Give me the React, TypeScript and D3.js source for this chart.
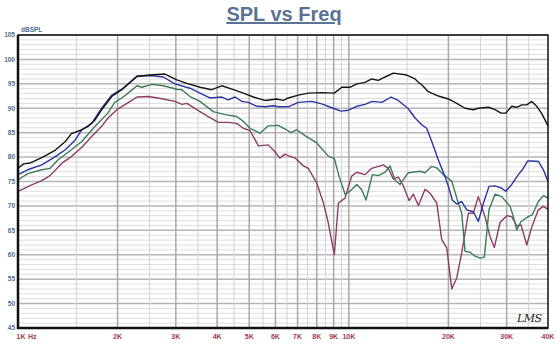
import React from 'react';
import * as d3 from 'd3';

const W = 560;
const H = 351;
const margin = { l: 18, r: 12, t: 35, b: 23 };

const yTicks = [45, 50, 55, 60, 65, 70, 75, 80, 85, 90, 95, 100, 105];
const xTicks = [1000, 2000, 3000, 4000, 5000, 6000, 7000, 8000, 9000, 10000, 20000, 30000, 40000];
const xTickLabels = ['1K', '2K', '3K', '4K', '5K', '6K', '7K', '8K', '9K', '10K', '20K', '30K', '40K'];
const xMinor = [1500, 2500, 3500, 4500, 5500, 6500, 7500, 8500, 9500, 15000, 25000, 35000];

// [Hz, dB]
const blackSeries: [number, number][] = [
  [1000, 77.7], [1040, 78.6], [1090, 78.8], [1180, 79.9], [1290, 81.3], [1390, 83.2], [1450, 84.8],
  [1560, 85.6], [1630, 86.3], [1710, 87.6], [1790, 89.7], [1920, 92.4], [2060, 93.8], [2160, 95.0],
  [2290, 96.5], [2510, 96.8], [2780, 97.0], [3020, 95.8], [3240, 95.1], [3550, 94.3], [3850, 93.8],
  [4130, 94.6], [4480, 93.8], [4800, 93.1], [5150, 92.3], [5580, 91.6], [6050, 91.9], [6340, 91.6],
  [6560, 92.1], [7040, 92.7], [7540, 93.1], [8280, 93.2], [9040, 93.1], [9520, 94.3], [10080, 94.3],
  [10570, 95.0], [11190, 95.3], [11730, 96.0], [12280, 95.7], [12870, 96.4], [13630, 97.2], [14960, 96.8],
  [15860, 96.0], [16230, 95.3], [16610, 94.8], [17390, 93.4], [18650, 92.5], [20000, 91.9], [21200, 91.0],
  [22460, 90.0], [23790, 89.7], [24630, 90.0], [26410, 90.2], [27670, 89.7], [28850, 89.0], [29810, 89.0],
  [31080, 90.4], [32180, 90.2], [33320, 90.7], [34500, 90.7], [35720, 91.4], [36980, 90.4], [38300, 88.9],
  [40000, 86.4],
];

const blueSeries: [number, number][] = [
  [1000, 76.4], [1070, 77.4], [1180, 78.4], [1290, 80.0], [1390, 81.5], [1490, 83.5], [1560, 85.6],
  [1670, 86.9], [1790, 90.0], [1920, 92.7], [2060, 93.9], [2290, 96.6], [2510, 96.7], [2750, 96.4],
  [2980, 95.0], [3310, 94.1], [3550, 93.1], [3800, 92.1], [4130, 92.3], [4320, 91.7], [4530, 92.3],
  [4750, 91.4], [4970, 91.2], [5270, 90.4], [5580, 90.3], [5910, 90.5], [6120, 90.3], [6560, 90.3],
  [7040, 91.2], [7720, 91.4], [8280, 90.9], [8880, 90.1], [9470, 89.4], [9970, 89.6], [10570, 90.4],
  [11190, 90.8], [11780, 91.4], [12580, 91.2], [13420, 92.3], [14110, 91.6], [15130, 89.9], [15860, 88.0],
  [16610, 86.6], [17200, 85.9], [17810, 83.2], [18650, 79.4], [19530, 76.0], [20000, 74.0], [20550, 71.2],
  [21200, 70.4], [21940, 70.9], [22720, 69.2], [23790, 68.8], [24630, 66.8], [25500, 70.5], [26530, 74.0],
  [27670, 74.1], [28850, 73.7], [29810, 73.0], [31080, 74.4], [32540, 76.4], [33460, 77.4], [34740, 79.2],
  [35720, 79.2], [37410, 79.1], [38730, 77.4], [40000, 75.0],
];

const greenSeries: [number, number][] = [
  [1000, 75.3], [1070, 76.6], [1180, 77.4], [1250, 77.7], [1320, 79.4], [1450, 81.5], [1560, 83.2],
  [1710, 86.3], [1870, 89.0], [1960, 91.2], [2060, 92.1], [2180, 93.4], [2290, 94.6], [2370, 94.3],
  [2540, 94.9], [2750, 94.6], [3020, 93.9], [3130, 93.8], [3310, 92.4], [3550, 91.4], [3890, 89.3],
  [4230, 88.7], [4580, 88.3], [4800, 87.3], [5030, 85.9], [5390, 84.9], [5710, 86.4], [6120, 86.5],
  [6400, 85.8], [6690, 85.0], [6960, 85.6], [7370, 84.4], [8000, 82.9], [8670, 80.2], [9040, 79.7],
  [9340, 76.1], [9740, 72.4], [10080, 73.0], [10570, 74.4], [10940, 73.3], [11270, 71.2], [11780, 76.4],
  [12280, 76.2], [12870, 76.9], [13320, 78.2], [13790, 75.3], [14280, 74.4], [15130, 76.8], [16420, 77.1],
  [17000, 76.8], [17810, 78.1], [18440, 77.8], [19310, 76.4], [20470, 75.1], [21200, 71.6], [21940, 68.5],
  [22460, 60.7], [23250, 60.5], [24070, 59.7], [24930, 59.3], [25680, 59.5], [26530, 69.2], [27670, 72.4],
  [28990, 71.9], [30720, 69.9], [31430, 67.8], [32180, 65.1], [33160, 66.8], [34880, 67.8], [35870, 68.2],
  [37410, 70.9], [38730, 72.1], [40000, 71.6],
];

const maroonSeries: [number, number][] = [
  [1000, 73.0], [1100, 74.3], [1180, 75.2], [1250, 76.2], [1360, 78.8], [1450, 80.1], [1560, 82.0],
  [1670, 84.2], [1790, 86.3], [1870, 88.0], [1990, 89.7], [2160, 91.2], [2290, 92.3], [2480, 92.4],
  [2750, 91.9], [2980, 91.4], [3130, 90.8], [3240, 91.0], [3550, 89.3], [3760, 88.3], [4030, 87.1],
  [4320, 87.1], [4580, 86.9], [4800, 85.9], [5030, 85.4], [5330, 82.3], [5710, 82.5], [5980, 81.1],
  [6190, 79.8], [6410, 80.6], [6560, 80.3], [6880, 79.8], [7290, 78.2], [7540, 77.7], [8000, 74.7],
  [8380, 70.6], [8670, 66.5], [9040, 60.0], [9300, 70.6], [9740, 71.6], [10200, 76.1], [10570, 76.9],
  [11190, 76.4], [11730, 77.7], [12280, 78.1], [12720, 78.4], [13160, 77.7], [13630, 75.5], [14110, 75.9],
  [14620, 74.1], [15210, 71.1], [15670, 72.4], [16230, 70.1], [17000, 73.4], [17600, 72.6], [18440, 70.6],
  [19090, 63.1], [19770, 61.4], [20470, 53.0], [21200, 55.3], [21940, 60.4], [22980, 68.5], [23790, 68.5],
  [24630, 71.9], [25800, 67.8], [26720, 63.7], [27540, 61.5], [28650, 66.6], [30020, 68.0], [31080, 67.8],
  [32180, 65.9], [33160, 66.1], [34500, 62.0], [35720, 65.7], [37410, 69.2], [38730, 69.9], [40000, 69.3],
];

const series = [
  { name: 'black', color: '#151515', data: blackSeries },
  { name: 'blue', color: '#2b34a3', data: blueSeries },
  { name: 'green', color: '#3c7b58', data: greenSeries },
  { name: 'maroon', color: '#8e3d63', data: maroonSeries },
];

const labelBlue = '#4f6b8d';
const labelRed = '#a03c4c';

export default function App() {
  const x = d3.scaleLog().domain([1000, 40000]).range([margin.l, W - margin.r]);
  const y = d3.scaleLinear().domain([45, 105]).range([H - margin.b, margin.t]);
  const minorDb = d3.range(46, 105).filter((v) => v % 5 !== 0);

  const line = d3
    .line<[number, number]>()
    .x((d) => x(d[0]))
    .y((d) => y(d[1]));

  const left = margin.l;
  const right = W - margin.r;
  const top = margin.t;
  const bottom = H - margin.b;

  return (
    <svg width={W} height={H} style={{ position: 'absolute', left: 0, top: 0, background: '#fff' }}>
      <text
        x={284}
        y={21}
        textAnchor="middle"
        fontFamily="Liberation Sans, Arial, sans-serif"
        fontWeight="bold"
        fontSize={20}
        fill="#5a7392"
        textDecoration="underline"
      >
        SPL vs Freq
      </text>

      {/* grid */}
      <g>
        {minorDb.map((v) => (
          <line key={'hm' + v} x1={left} x2={right} y1={y(v)} y2={y(v)} stroke="#dedede" strokeWidth={1} />
        ))}
        {yTicks.map((v) => (
          <line key={'hM' + v} x1={left} x2={right} y1={y(v)} y2={y(v)} stroke="#b4b4b4" strokeWidth={1.5} />
        ))}
        {xMinor.map((f) => (
          <line key={'vm' + f} x1={x(f)} x2={x(f)} y1={top} y2={bottom} stroke="#d2d2d2" strokeWidth={1} />
        ))}
        {xTicks.slice(1, -1).map((f) => (
          <line key={'vM' + f} x1={x(f)} x2={x(f)} y1={top} y2={bottom} stroke="#a8a8a8" strokeWidth={1.5} />
        ))}
      </g>

      {/* curves */}
      <g fill="none" strokeWidth={1.4} strokeLinejoin="round">
        {series
          .slice()
          .reverse()
          .map((s) => (
            <path key={s.name} d={line(s.data) as string} stroke={s.color} />
          ))}
      </g>

      {/* frame */}
      <rect x={left} y={top} width={right - left} height={bottom - top} fill="none" stroke="#111" strokeWidth={1.5} />
      <line x1={left} x2={left} y1={top} y2={bottom + 1} stroke="#111" strokeWidth={2.5} />
      <line x1={left - 1} x2={right} y1={bottom} y2={bottom} stroke="#111" strokeWidth={2.5} />

      {/* y labels */}
      <g fontFamily="Liberation Sans, Arial, sans-serif" fontWeight="bold" fontSize={6.5} fill={labelBlue}>
        {yTicks.map((v) => (
          <text key={v} x={15} y={y(v)} dy="0.35em" textAnchor="end">
            {v}
          </text>
        ))}
        <text x={21} y={32}>dBSPL</text>
      </g>

      {/* x labels */}
      <g fontFamily="Liberation Sans, Arial, sans-serif" fontWeight="bold" fontSize={7} fill={labelRed}>
        {xTicks.map((f, i) => (
          <text
            key={f}
            x={i === 0 ? x(f) - 1.5 : x(f)}
            y={339}
            textAnchor={i === 0 ? 'start' : 'middle'}
          >
            {xTickLabels[i]}
          </text>
        ))}
        <text x={28} y={339}>Hz</text>
      </g>

      <text
        x={517}
        y={322}
        fontFamily="DejaVu Serif, serif"
        fontStyle="italic"
        fontSize={11}
        fill="#222"
        letterSpacing={-0.5}
      >
        LMS
      </text>
    </svg>
  );
}
